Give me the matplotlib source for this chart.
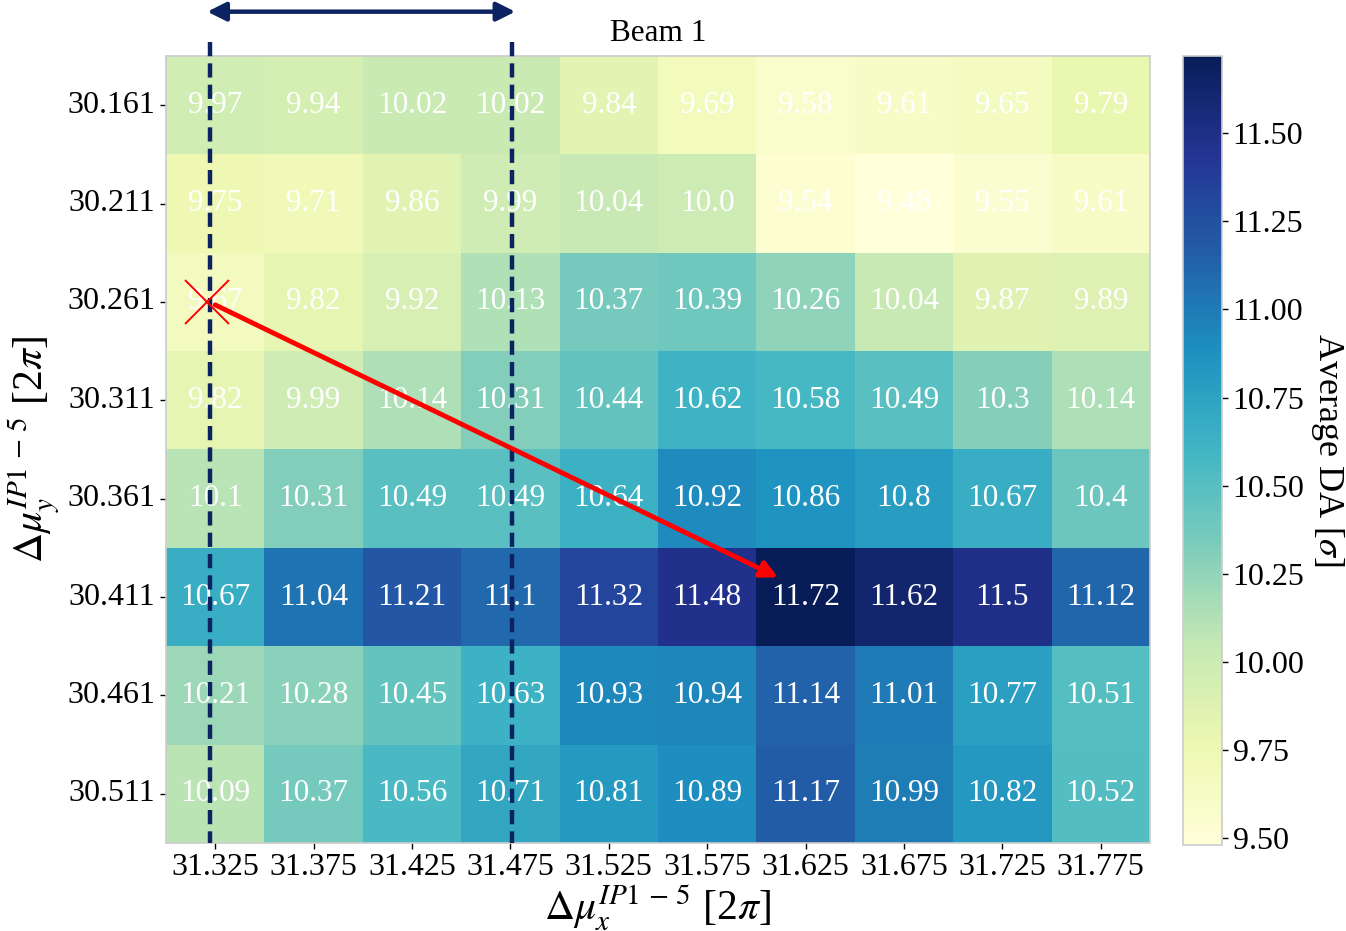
import numpy as np
import matplotlib
matplotlib.use("Agg")
import matplotlib.pyplot as plt
import seaborn as sns

plt.rcParams['font.family'] = ['Liberation Serif', 'DejaVu Serif']
plt.rcParams['mathtext.fontset'] = 'stix'

mux = ["31.325", "31.375", "31.425", "31.475", "31.525",
       "31.575", "31.625", "31.675", "31.725", "31.775"]
muy = ["30.161", "30.211", "30.261", "30.311",
       "30.361", "30.411", "30.461", "30.511"]

da = [
    [9.97, 9.94, 10.02, 10.02, 9.84, 9.69, 9.58, 9.61, 9.65, 9.79],
    [9.75, 9.71, 9.86, 9.99, 10.04, 10.0, 9.54, 9.48, 9.55, 9.61],
    [9.67, 9.82, 9.92, 10.13, 10.37, 10.39, 10.26, 10.04, 9.87, 9.89],
    [9.82, 9.99, 10.14, 10.31, 10.44, 10.62, 10.58, 10.49, 10.3, 10.14],
    [10.1, 10.31, 10.49, 10.49, 10.64, 10.92, 10.86, 10.8, 10.67, 10.4],
    [10.67, 11.04, 11.21, 11.1, 11.32, 11.48, 11.72, 11.62, 11.5, 11.12],
    [10.21, 10.28, 10.45, 10.63, 10.93, 10.94, 11.14, 11.01, 10.77, 10.51],
    [10.09, 10.37, 10.56, 10.71, 10.81, 10.89, 11.17, 10.99, 10.82, 10.52],
]
da = np.array(da)

fig = plt.figure(figsize=(13.46, 9.31), dpi=100)
ax = fig.add_axes([0.1233, 0.0945, 0.7311, 0.8454])
cax = fig.add_axes([0.879, 0.0925, 0.029, 0.8475])

sns.heatmap(da, ax=ax, cbar_ax=cax, cmap="YlGnBu",
            vmin=da.min(), vmax=da.max(), xticklabels=mux, yticklabels=muy)

for i in range(da.shape[0]):
    for j in range(da.shape[1]):
        ax.text(j + 0.5, i + 0.5, str(da[i, j]), ha='center', va='center',
                color='white', fontsize=22.5)

ax.tick_params(axis='both', labelsize=23, length=4, width=1, color='black')
ax.tick_params(axis='x', rotation=0)
ax.tick_params(axis='y', rotation=0)
for s in ax.spines.values():
    s.set_visible(True)
    s.set_color('#cccccc')
    s.set_linewidth(1.2)

ax.set_title("Beam 1", fontsize=22.5, pad=11)
ax.set_xlabel(r"$\Delta\mu_x^{IP\mathrm{1}\,-\,5}$ [2$\pi$]", fontsize=30, labelpad=0)
ax.set_ylabel(r"$\Delta\mu_y^{IP\mathrm{1}\,-\,5}$ [2$\pi$]", fontsize=30, labelpad=4)

cbar = ax.collections[0].colorbar
cbar.set_ticks([9.5, 9.75, 10.0, 10.25, 10.5, 10.75, 11.0, 11.25, 11.5])
cbar.ax.set_yticklabels(["9.50", "9.75", "10.00", "10.25", "10.50",
                         "10.75", "11.00", "11.25", "11.50"])
cbar.ax.tick_params(labelsize=23, length=4, width=1)
cbar.outline.set_edgecolor('#cccccc')
cbar.outline.set_linewidth(1.2)
cbar.outline.set_visible(True)
cbar.set_label(r"Average DA [$\sigma$]", fontsize=26, rotation=270, labelpad=30)

# scan window in mux
navy = '#0b2461'
for xv in [0.45, 3.52]:
    ax.plot([xv, xv], [-0.14, 8.0], color=navy, lw=3.2, ls=(0, (3.2, 1.6)),
            clip_on=False, zorder=5)
ax.annotate("", xy=(0.42, -0.45), xytext=(3.55, -0.45),
            arrowprops=dict(arrowstyle='<|-|>', color=navy, lw=3.2,
                            mutation_scale=28, shrinkA=0, shrinkB=0),
            annotation_clip=False)

# nominal working point and the best cell
ax.plot(0.42, 2.5, marker='x', color='red', markersize=32, mew=1.4, zorder=6)
ax.annotate("", xy=(6.22, 5.3), xytext=(0.5, 2.53),
            arrowprops=dict(arrowstyle='-|>', color='red', lw=3.5,
                            mutation_scale=25, shrinkA=0, shrinkB=0),
            zorder=6)

fig.savefig("out.png", dpi=100)
